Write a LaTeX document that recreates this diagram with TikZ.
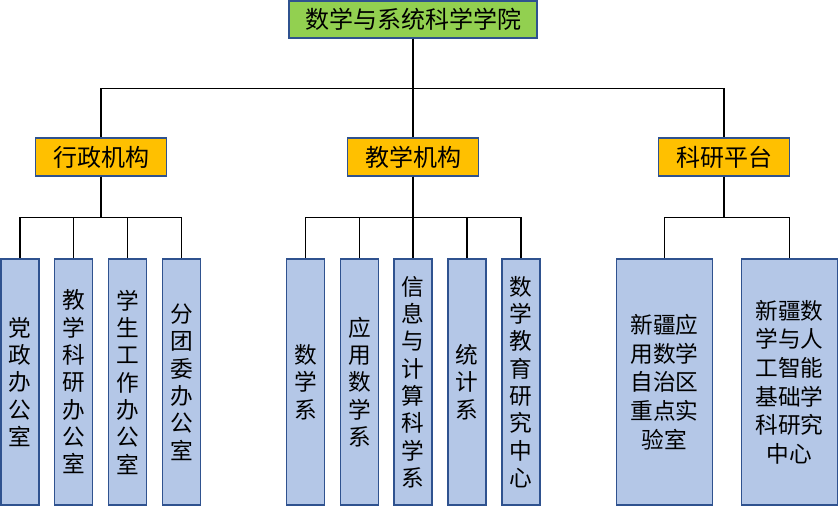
\documentclass[tikz,border=0pt]{standalone}
\usepackage{fontspec}
\newfontfamily\cjk{Noto Sans CJK SC}
\definecolor{boxline}{RGB}{47,82,143}
\definecolor{topfill}{RGB}{146,208,80}
\definecolor{midfill}{RGB}{255,192,0}
\definecolor{leaffill}{RGB}{180,199,231}

\begin{document}
\begin{tikzpicture}[x=0.75pt,y=0.75pt,yscale=-1,xscale=1,
  box/.style={draw=boxline,line width=0.8pt,inner sep=0pt,font=\cjk\fontsize{18}{21}\selectfont},
  topbox/.style={box,fill=topfill,minimum width=186pt,minimum height=27.75pt},
  midbox/.style={box,fill=midfill,minimum width=98.25pt,minimum height=28.5pt},
  leaf/.style={box,fill=leaffill,minimum width=28.5pt,minimum height=184.5pt,align=center,font=\cjk\fontsize{17}{20.5}\selectfont},
  wideleaf/.style={leaf,minimum width=72pt,font=\cjk\fontsize{17}{21.5}\selectfont},
  link/.style={draw=black,line width=0.9pt}]
\useasboundingbox (0,0) rectangle (839,506);

%Shape: Rectangle [top]
\node[topbox] (school) at (413,19.5) {数学与系统科学学院};

%Shape: Rectangle [second row]
\node[midbox] (admin) at (101,157) {行政机构};
\node[midbox] (teach) at (413,157) {教学机构};
\node[midbox] (research) at (724,157) {科研平台};

%Shape: Rectangle [admin offices]
\node[leaf] (a1) at (20,382) {党\\政\\办\\公\\室};
\node[leaf] (a2) at (73.5,382) {教\\学\\科\\研\\办\\公\\室};
\node[leaf] (a3) at (127.5,382) {学\\生\\工\\作\\办\\公\\室};
\node[leaf] (a4) at (181.5,382) {分\\团\\委\\办\\公\\室};

%Shape: Rectangle [departments]
\node[leaf] (t1) at (305.5,382) {数\\学\\系};
\node[leaf] (t2) at (359.5,382) {应\\用\\数\\学\\系};
\node[leaf] (t3) at (413,382) {信\\息\\与\\计\\算\\科\\学\\系};
\node[leaf] (t4) at (467,382) {统\\计\\系};
\node[leaf] (t5) at (521,382) {数\\学\\教\\育\\研\\究\\中\\心};

%Shape: Rectangle [platforms]
\node[wideleaf] (r1) at (664.5,382) {新疆应\\用数学\\自治区\\重点实\\验室};
\node[wideleaf] (r2) at (789.5,382) {新疆数\\学与人\\工智能\\基础学\\科研究\\中心};

%Straight Lines [top to second row]
\draw[link] (school.south) -- ++(0,50) -| (admin.north);
\draw[link] (school.south) -- (teach.north);
\draw[link] (school.south) -- ++(0,50) -| (research.north);

%Straight Lines [second row to leaves]
\foreach \c in {a1,a2,a3,a4}
  \draw[link] (admin.south) -- ++(0,41) -| (\c.north);
\foreach \c in {t1,t2,t3,t4,t5}
  \draw[link] (teach.south) -- ++(0,41) -| (\c.north);
\foreach \c in {r1,r2}
  \draw[link] (research.south) -- ++(0,41) -| (\c.north);

\end{tikzpicture}
\end{document}
